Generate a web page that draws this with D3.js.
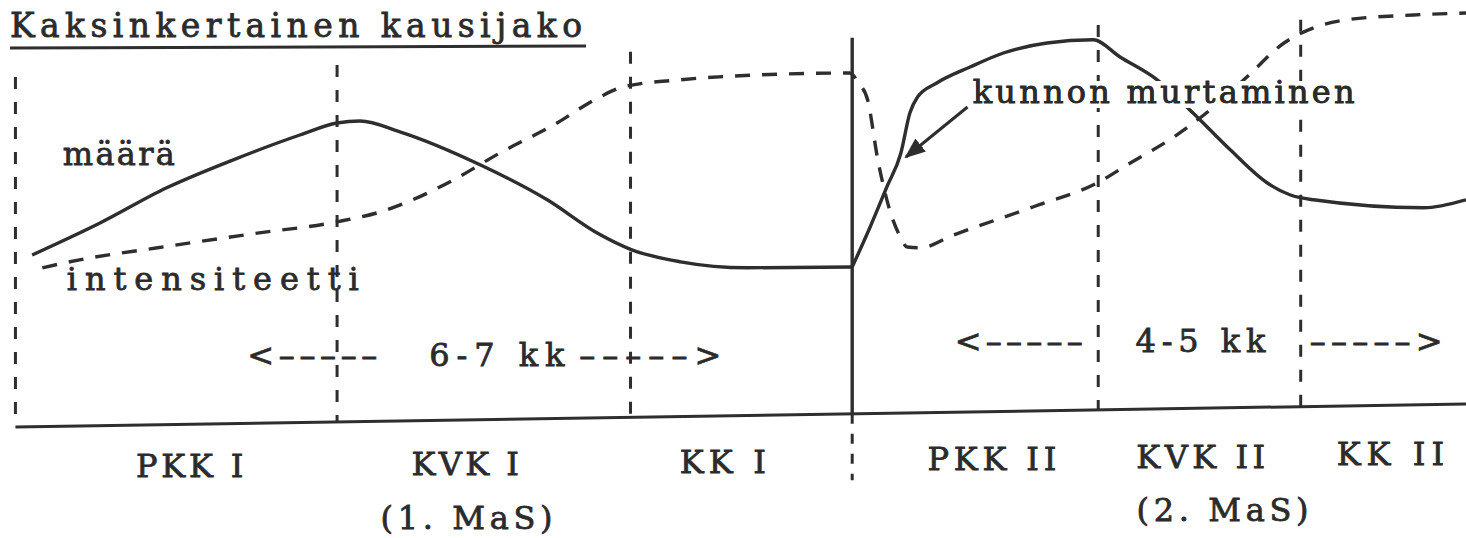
<!DOCTYPE html>
<html>
<head>
  <meta charset='utf-8'>
  <script src='https://d3js.org/d3.v7.min.js'></script>
  <style>
    body { margin: 0; background: white; }
    text { font-family: 'DejaVu Serif', 'Liberation Serif', serif; fill: #2b2b2b; stroke: #2b2b2b; stroke-width: 0.8px; }
  </style>
</head>
<body>
<script>
  'use strict';
  // time in months (t), level in arbitrary units (v)
  // määrä, 1st macro cycle
  var maara1T = [0.11, 0.64, 1.16, 1.68, 2.20, 2.49, 2.67, 2.98, 3.61, 4.13, 4.52, 4.79, 5.17, 5.69, 6.51];
  var maara1V = [40, 48, 56.8, 63.8, 70, 73, 73.5, 70.8, 62.5, 53.8, 45.5, 41.3, 38.3, 36.8, 37];
  // määrä, 2nd macro cycle
  var maara2T = [6.51, 6.65, 6.78, 6.89, 6.96, 7.02, 7.17, 7.43, 7.69, 8.03, 8.39, 8.60, 8.89, 9.17, 9.46, 9.75, 9.93, 10.11, 10.97, 11.30];
  var maara2V = [37, 47, 57, 65.5, 75.5, 79.5, 83, 87, 90.5, 93, 93.8, 89.5, 83.8, 75.5, 66.3, 58, 55, 53.8, 51.8, 53.8];

  var intensT = [0.19, 0.48, 1.09, 1.83, 2.49, 2.83, 3.08, 3.40, 3.76, 4.18, 4.54, 4.72, 5.17, 5.77, 6.49, 6.56, 6.63, 6.71, 6.81, 6.87, 6.94, 7.04, 7.30, 7.92, 8.42, 8.68, 9.02, 9.33, 9.59, 9.88, 10.11, 10.37, 10.89, 11.30];
  var intensV = [36.8, 38.8, 41.8, 45.3, 48.3, 50.8, 53.8, 58.8, 65.5, 72.5, 79.5, 82, 83.8, 85, 85.5, 83, 78.8, 63.8, 50.5, 45.5, 42, 41.8, 45, 52, 58, 63, 69.5, 77, 84.5, 93, 96.8, 98.8, 100, 100.5];

  // phase boundaries (months) and the top of each boundary line
  var boundaryT = [-0.02, 2.49, 4.78, 6.51, 8.43, 10.01];
  var boundaryTop = [84.5, 87.5, 90.8, 94.3, 97.5, 98.8];
  var boundarySolid = [false, false, false, true, false, false];

  var phaseLabels = ['PKK I', 'KVK I', 'KK I', 'PKK II', 'KVK II', 'KK II'];
  var phaseT = [1.34, 3.49, 5.50, 7.60, 9.23, 10.71];

  var cycleLabels = ['(1. MaS)', '(2. MaS)'];
  var cycleT = [3.5, 9.4];

  var durationLabels = ['6-7 kk', '4-5 kk'];

  var axisT = [-0.02, 11.32];
  var axisV = [-3, 2.75];

  var x = d3.scaleLinear().domain([0, 11.3]).range([18, 1466]);
  var y = d3.scaleLinear().domain([0, 100]).range([415, 15]);

  var svg = d3.select('body').append('svg')
    .attr('width', 1466)
    .attr('height', 538);

  var ink = '#2e2e2e';

  function axisAt(t) {
    return axisV[0] + (axisV[1] - axisV[0]) * (t - axisT[0]) / (axisT[1] - axisT[0]);
  }

  // title
  svg.append('text')
    .attr('x', 10).attr('y', 37)
    .attr('font-size', 33)
    .attr('textLength', 572).attr('lengthAdjust', 'spacing')
    .text('Kaksinkertainen kausijako');
  svg.append('line')
    .attr('x1', 10).attr('y1', 48).attr('x2', 586).attr('y2', 46)
    .attr('stroke', ink).attr('stroke-width', 3);

  // baseline
  svg.append('line')
    .attr('x1', x(axisT[0])).attr('y1', y(axisV[0]))
    .attr('x2', x(axisT[1])).attr('y2', y(axisV[1]))
    .attr('stroke', ink).attr('stroke-width', 3);

  // phase boundaries
  boundaryT.forEach(function(t, i) {
    svg.append('line')
      .attr('x1', x(t)).attr('x2', x(t))
      .attr('y1', y(boundaryTop[i])).attr('y2', y(axisAt(t)))
      .attr('stroke', ink)
      .attr('stroke-width', boundarySolid[i] ? 3.4 : 3)
      .attr('stroke-dasharray', boundarySolid[i] ? null : '12,13');
    if (boundarySolid[i]) {
      svg.append('line')
        .attr('x1', x(t)).attr('x2', x(t))
        .attr('y1', y(axisAt(t))).attr('y2', y(-16.3))
        .attr('stroke', ink).attr('stroke-width', 3)
        .attr('stroke-dasharray', '10,10');
    }
  });

  var line = d3.line()
    .x(function(d) { return x(d[0]); })
    .y(function(d) { return y(d[1]); })
    .curve(d3.curveMonotoneX);

  svg.append('path')
    .attr('d', line(d3.zip(intensT, intensV)))
    .attr('fill', 'none').attr('stroke', ink)
    .attr('stroke-width', 3.4).attr('stroke-dasharray', '15,12');

  [d3.zip(maara1T, maara1V), d3.zip(maara2T, maara2V)].forEach(function(seg) {
    svg.append('path')
      .attr('d', line(seg))
      .attr('fill', 'none').attr('stroke', ink)
      .attr('stroke-width', 3.4).attr('stroke-linejoin', 'round');
  });

  // text helper
  function label(txt, t, v, len, anchor) {
    return svg.append('text')
      .attr('x', x(t)).attr('y', y(v))
      .attr('font-size', 32)
      .attr('text-anchor', anchor || 'start')
      .attr('textLength', len).attr('lengthAdjust', 'spacing')
      .text(txt);
  }

  label('määrä', 0.35, 62.5, 112);
  label('intensiteetti', 0.38, 31.3, 292);

  // arrow to the break-through point
  svg.append('defs').append('marker')
    .attr('id', 'head').attr('viewBox', '0 0 10 10')
    .attr('refX', 9).attr('refY', 5)
    .attr('markerWidth', 7).attr('markerHeight', 7)
    .attr('orient', 'auto')
    .append('path').attr('d', 'M0,1 L10,5 L0,9 Z').attr('fill', ink);
  svg.append('line')
    .attr('x1', x(7.41)).attr('y1', y(77))
    .attr('x2', x(6.93)).attr('y2', y(64.5))
    .attr('stroke', ink).attr('stroke-width', 3)
    .attr('marker-end', 'url(#head)');

  label('kunnon murtaminen', 7.45, 78, 382)
    .style('paint-order', 'stroke')
    .style('stroke', 'white').style('stroke-width', '10px');
  label('kunnon murtaminen', 7.45, 78, 382);

  // duration arrows
  label('<\u2013\u2013\u2013\u2013\u2013', 1.79, 12.3, 130);
  label(durationLabels[0], 3.21, 12.3, 135);
  label('\u2013\u2013\u2013\u2013\u2013>', 4.38, 12.3, 142);
  label('<\u2013\u2013\u2013\u2013\u2013', 7.31, 15.8, 128);
  label(durationLabels[1], 8.72, 15.8, 130);
  label('\u2013\u2013\u2013\u2013\u2013>', 10.08, 15.8, 133);

  // phases under the baseline
  phaseLabels.forEach(function(p, i) {
    label(p, phaseT[i], -15.6 + i * 0.6, p.length * 21.5, 'middle');
  });
  cycleLabels.forEach(function(c, i) {
    label(c, cycleT[i], -28.6 + i * 2.0, 172, 'middle');
  });
</script>
</body>
</html>
